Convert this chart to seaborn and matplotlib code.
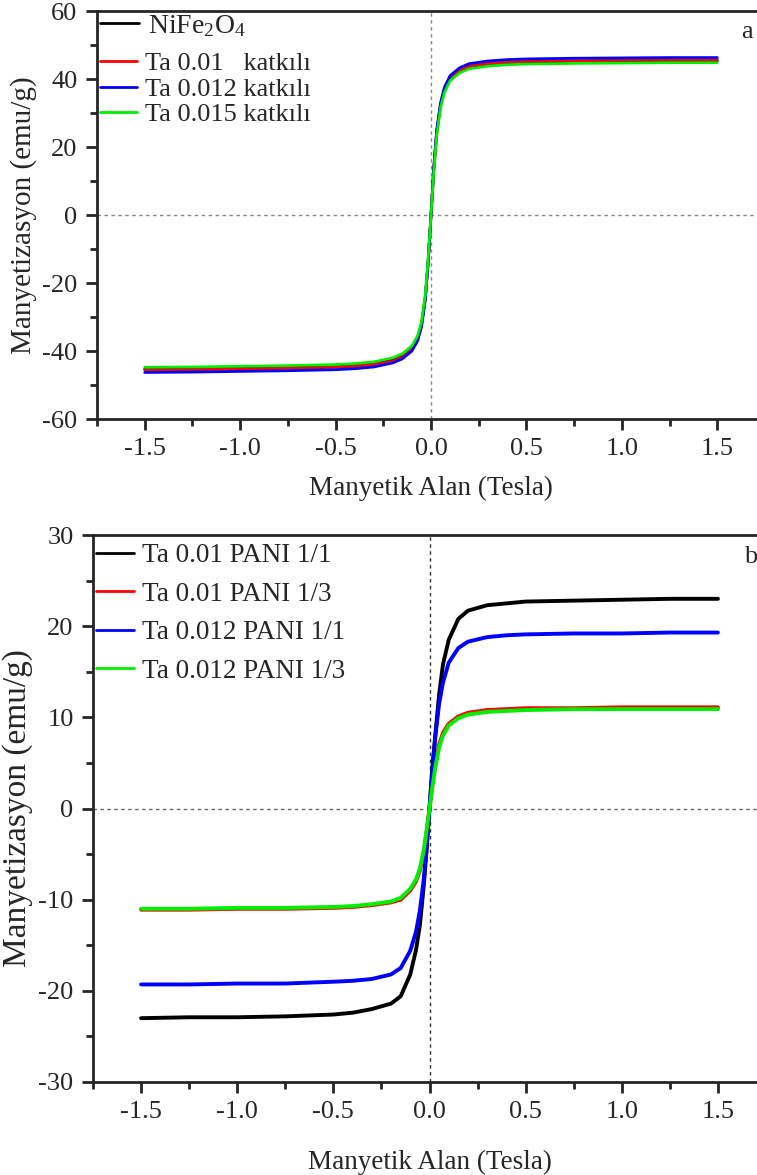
import matplotlib
matplotlib.use("Agg")
import matplotlib.pyplot as plt
from matplotlib.ticker import MultipleLocator
import seaborn as sns
import pandas as pd

# ---------------- data ----------------
field = [-1.5, -1.25, -1.0, -0.75, -0.5, -0.4, -0.3, -0.2, -0.15, -0.1, -0.07, -0.05, -0.03, -0.015, 0.0,
         0.015, 0.03, 0.05, 0.07, 0.1, 0.15, 0.2, 0.3, 0.4, 0.5, 0.75, 1.0, 1.25, 1.5]

labels_a = ["NiFe$_2$O$_4$", "Ta 0.01   katkılı", "Ta 0.012 katkılı", "Ta 0.015 katkılı"]
m_nife2o4 = [-45.3, -45.2, -45.0, -44.8, -44.5, -44.2, -43.7, -42.7, -41.5, -39.2, -36.2, -32.2, -24.2, -13.8, 0.0,
             13.8, 24.2, 32.2, 36.7, 40.0, 42.3, 43.5, 44.3, 44.7, 44.9, 45.1, 45.2, 45.3, 45.3]
m_ta001 = [-45.6, -45.5, -45.3, -45.1, -44.8, -44.5, -44.0, -43.0, -41.8, -39.5, -36.5, -32.5, -24.5, -14.0, 0.0,
           14.0, 24.5, 32.5, 37.0, 40.3, 42.6, 43.8, 44.6, 45.0, 45.2, 45.4, 45.5, 45.6, 45.6]
m_ta0012 = [-46.3, -46.2, -46.0, -45.8, -45.5, -45.2, -44.7, -43.5, -42.3, -40.0, -37.0, -33.0, -25.0, -14.0, 0.0,
            14.0, 25.0, 33.0, 37.5, 41.0, 43.3, 44.5, 45.3, 45.7, 45.9, 46.1, 46.2, 46.3, 46.3]
m_ta0015 = [-44.8, -44.7, -44.5, -44.3, -44.0, -43.7, -43.2, -42.0, -40.8, -38.5, -35.5, -31.5, -23.5, -13.0, 0.0,
            13.0, 23.5, 31.5, 36.0, 39.5, 41.8, 43.0, 43.8, 44.2, 44.4, 44.6, 44.7, 44.8, 44.8]

labels_b = ["Ta 0.01 PANI 1/1", "Ta 0.01 PANI 1/3", "Ta 0.012 PANI 1/1", "Ta 0.012 PANI 1/3"]
m_001_11 = [-23.0, -22.9, -22.9, -22.8, -22.6, -22.4, -22.0, -21.4, -20.6, -18.2, -15.5, -12.8, -8.5, -4.5, 0.0,
            4.5, 8.0, 12.5, 15.8, 18.5, 20.8, 21.7, 22.3, 22.5, 22.7, 22.8, 22.9, 23.0, 23.0]
m_001_13 = [-11.1, -11.1, -11.0, -11.0, -10.9, -10.8, -10.6, -10.3, -10.0, -9.0, -8.0, -6.8, -4.8, -2.6, 0.0,
            2.6, 4.8, 7.0, 8.3, 9.3, 10.1, 10.5, 10.8, 10.9, 11.0, 11.0, 11.1, 11.1, 11.1]
m_0012_11 = [-19.3, -19.3, -19.2, -19.2, -19.0, -18.9, -18.7, -18.2, -17.5, -15.6, -13.5, -11.2, -7.8, -4.2, 0.0,
             4.2, 7.8, 11.5, 13.8, 16.0, 17.6, 18.3, 18.8, 19.0, 19.1, 19.2, 19.2, 19.3, 19.3]
m_0012_13 = [-11.0, -11.0, -10.9, -10.9, -10.8, -10.7, -10.5, -10.2, -9.8, -8.8, -7.8, -6.6, -4.6, -2.4, 0.0,
             2.4, 4.5, 6.7, 8.0, 9.1, 9.9, 10.3, 10.6, 10.7, 10.8, 10.9, 10.9, 10.9, 10.9]

colors = ["#000000", "#ff0000", "#0000ff", "#00ee00"]

x_label = "Manyetik Alan (Tesla)"
y_label = "Manyetizasyon (emu/g)"

# ---------------- style ----------------
sns.set_style("ticks")
plt.rcParams["font.family"] = ["Liberation Serif", "DejaVu Serif"]
plt.rcParams["mathtext.fontset"] = "custom"
plt.rcParams["mathtext.rm"] = "Liberation Serif"
plt.rcParams["mathtext.it"] = "Liberation Serif:italic"
plt.rcParams["axes.unicode_minus"] = False

def long_df(labels, series):
    rows = []
    for lab, ys in zip(labels, series):
        for h, m in zip(field, ys):
            rows.append({"H": h, "M": m, "sample": lab})
    return pd.DataFrame(rows)

df_a = long_df(labels_a, [m_nife2o4, m_ta001, m_ta0012, m_ta0015])
df_b = long_df(labels_b, [m_001_11, m_001_13, m_0012_11, m_0012_13])

fig = plt.figure(figsize=(7.57, 11.75), dpi=100)
ax1 = fig.add_axes([97 / 757, 1 - 419 / 1175, 668 / 757, 408 / 1175])
ax2 = fig.add_axes([93 / 757, 1 - 1082 / 1175, 673 / 757, 547 / 1175])

def style_axes(ax, ylim, ymaj, ymin, ylab_size, xlabpad, dash_color_v, dash_color_h):
    ax.axvline(0, color=dash_color_v, lw=1.0, ls=(0, (2.5, 2.5)), zorder=1)
    ax.axhline(0, color=dash_color_h, lw=1.0, ls=(0, (2.5, 2.5)), zorder=1)
    ax.set_xlim(-1.75, 1.75)
    ax.set_ylim(*ylim)
    ax.xaxis.set_major_locator(MultipleLocator(0.5))
    ax.xaxis.set_minor_locator(MultipleLocator(0.25))
    ax.yaxis.set_major_locator(MultipleLocator(ymaj))
    ax.yaxis.set_minor_locator(MultipleLocator(ymin))
    ax.tick_params(which="major", direction="out", length=8, width=2, labelsize=19, pad=6)
    ax.tick_params(which="minor", direction="out", length=5, width=2)
    ax.tick_params(top=False, right=False)
    for s in ax.spines.values():
        s.set_linewidth(2)
    ax.set_xlabel(x_label, fontsize=19.5, labelpad=xlabpad)
    ax.set_ylabel(y_label, fontsize=ylab_size, labelpad=4)
    ax.set_xticklabels([f"{v:.1f}" for v in ax.get_xticks()])

sns.lineplot(data=df_a, x="H", y="M", hue="sample", palette=colors, hue_order=labels_a,
             estimator=None, sort=False, lw=2.0, ax=ax1, zorder=3)
sns.lineplot(data=df_b, x="H", y="M", hue="sample", palette=colors, hue_order=labels_b,
             estimator=None, sort=False, lw=2.8, ax=ax2, zorder=3)

style_axes(ax1, (-60, 60), 20, 10, 21, 11, "#888888", "#888888")
style_axes(ax2, (-30, 30), 10, 5, 24, 19, "#333333", "#666666")

# legend of panel a: first entry separate (taller subscript row)
h_a, l_a = ax1.get_legend_handles_labels()
ax1.get_legend().remove()
leg_kw = dict(frameon=False, handlelength=1.4, handletextpad=0.3, borderaxespad=0.0, borderpad=0.0)
leg1 = ax1.legend(h_a[:1], l_a[:1], loc="upper left", bbox_to_anchor=(0.005, 0.995),
                  fontsize=20, **leg_kw)
ax1.add_artist(leg1)
leg2 = ax1.legend(h_a[1:], l_a[1:], loc="upper left", bbox_to_anchor=(0.005, 0.9),
                  fontsize=19, labelspacing=0.08, **leg_kw)
ax2.legend(loc="upper left", bbox_to_anchor=(0.005, 0.985), fontsize=19.5,
           labelspacing=0.5, **leg_kw)
for leg in (leg1, leg2, ax2.get_legend()):
    for line in leg.get_lines():
        line.set_linewidth(2.0)

ax1.text(0.965, 0.975, "a", transform=ax1.transAxes, fontsize=19, ha="left", va="top")
ax2.text(0.967, 0.98, "b", transform=ax2.transAxes, fontsize=19, ha="left", va="top")

fig.savefig("out.png", dpi=100)
